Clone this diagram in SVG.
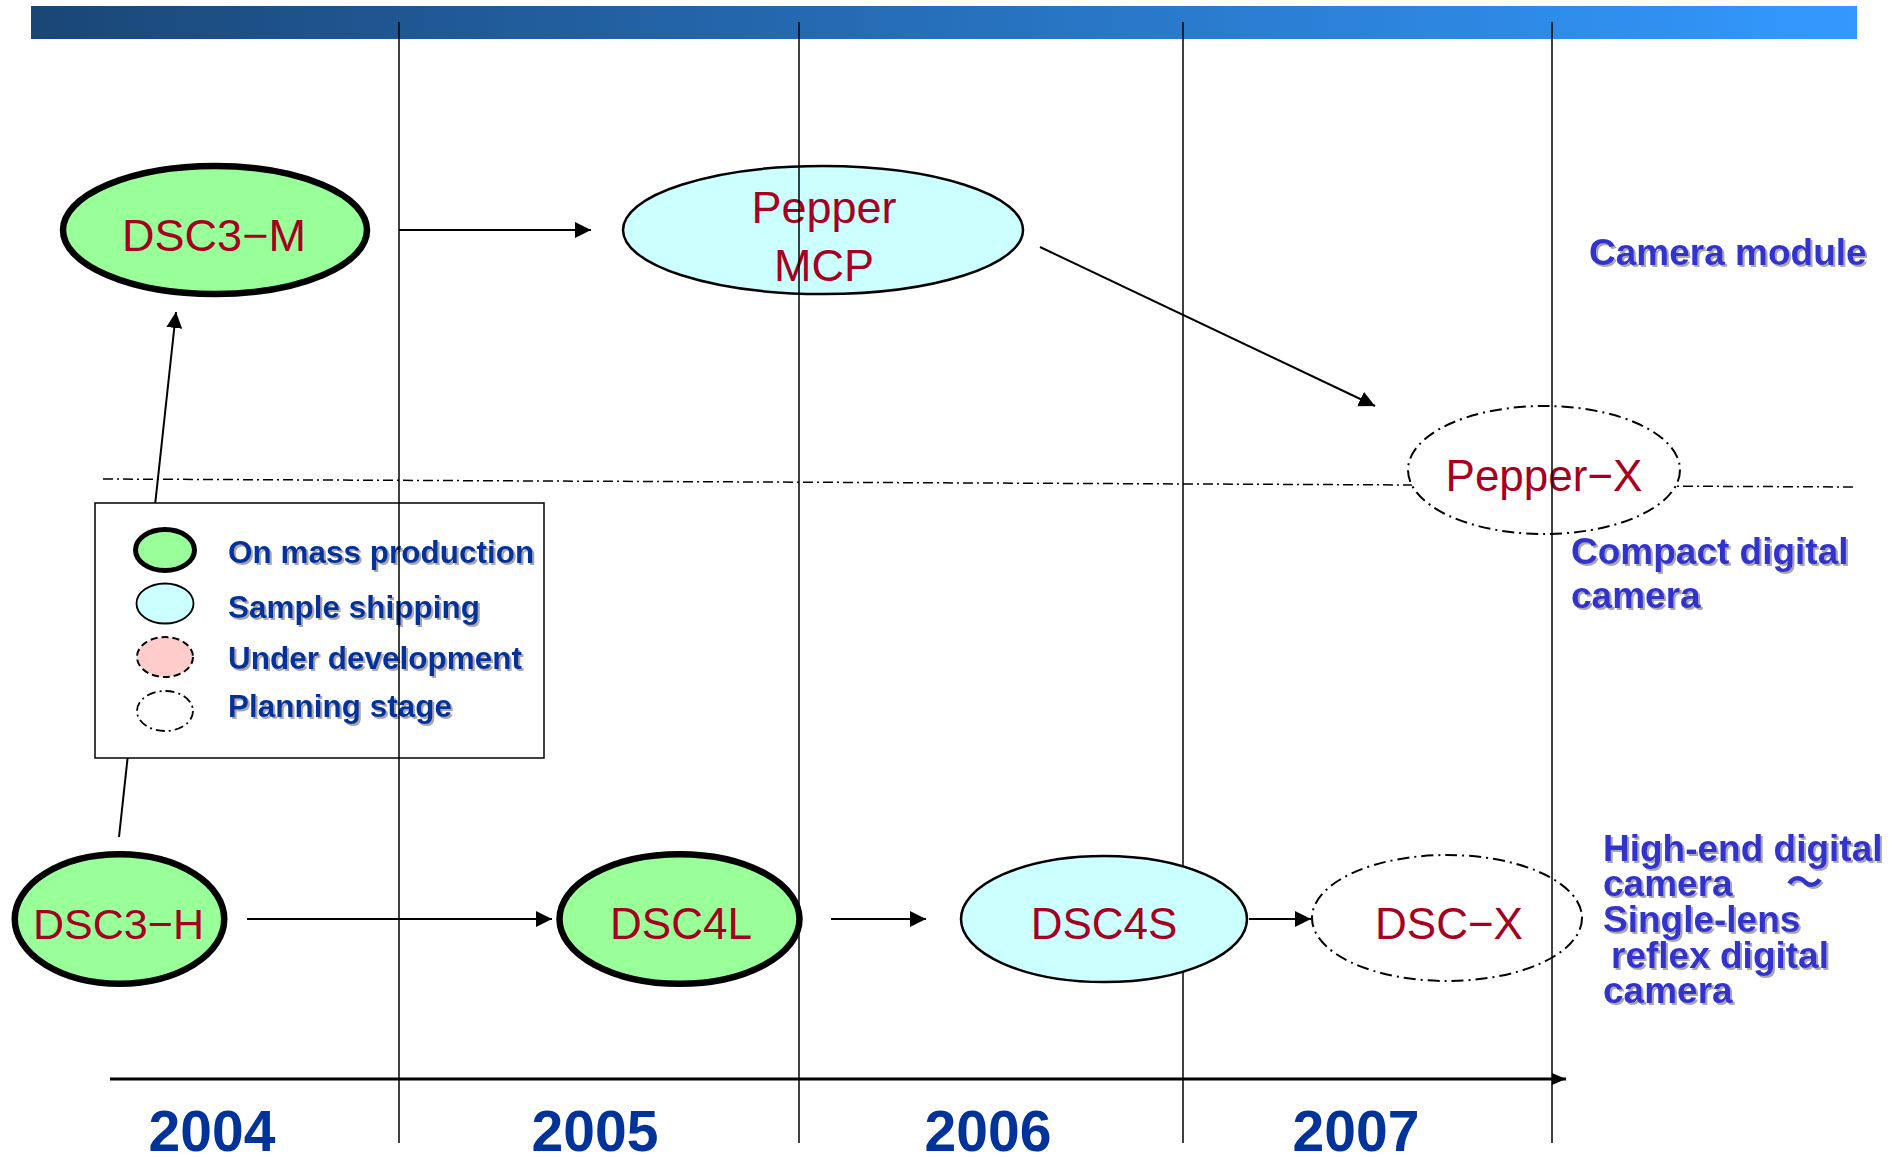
<svg xmlns="http://www.w3.org/2000/svg" width="1903" height="1157" viewBox="0 0 1903 1157">
<defs>
<linearGradient id="barGrad" x1="0" y1="0" x2="1" y2="0">
<stop offset="0" stop-color="#1a4677"/>
<stop offset="1" stop-color="#3399ff"/>
</linearGradient>
<marker id="arrow" markerUnits="userSpaceOnUse" markerWidth="16" markerHeight="16" refX="16" refY="8" orient="auto">
<path d="M0,0 L16,8 L0,16 z" fill="#000"/>
</marker>
<marker id="arrowSmall" markerUnits="userSpaceOnUse" markerWidth="14" markerHeight="12" refX="14" refY="6" orient="auto">
<path d="M0,0 L14,6 L0,12 z" fill="#000"/>
</marker>
<filter id="shadow" x="-5%" y="-20%" width="110%" height="140%">
<feDropShadow dx="2" dy="2" stdDeviation="0.6" flood-color="#999999" flood-opacity="0.85"/>
</filter>
</defs>
<style>
.grid{stroke:#000;stroke-width:1.5;fill:none}
.conn{stroke:#000;stroke-width:2;fill:none;marker-end:url(#arrow)}
.mass{fill:#99ff99;stroke:#000;stroke-width:6.5}
.sample{fill:#ccffff;stroke:#000;stroke-width:2.5}
.dev{fill:#ffcccc;stroke:#000;stroke-width:2;stroke-dasharray:7 4}
.plan{fill:#fff;stroke:#000;stroke-width:2;stroke-dasharray:12 5 2 5}
.node{font-family:"Liberation Sans",Arial,sans-serif;fill:#a50021;text-anchor:middle;font-size:44px}
.legtxt{font-family:"Liberation Sans",Arial,sans-serif;font-weight:bold;font-size:31.5px;fill:#003399;filter:url(#shadow)}
.cat{font-family:"Liberation Sans",Arial,"Noto Sans CJK JP",sans-serif;font-weight:bold;font-size:37px;fill:#3333cc;filter:url(#shadow)}
.year{font-family:"Liberation Sans",Arial,sans-serif;font-weight:bold;font-size:57px;fill:#003399;text-anchor:middle}
</style>
<rect x="31" y="6" width="1826" height="33" fill="url(#barGrad)"/>
<line x1="103" y1="479" x2="1857" y2="487" stroke="#000" stroke-width="1.5" stroke-dasharray="10 4 2 4"/>
<g id="connectors">
<line class="conn" x1="119" y1="837" x2="176" y2="312"/>
<line class="conn" x1="399" y1="230" x2="591" y2="230"/>
<line class="conn" x1="1040" y1="247" x2="1375" y2="406"/>
<line class="conn" x1="247" y1="919" x2="552" y2="919"/>
<line class="conn" x1="831" y1="919" x2="926" y2="919"/>
<line class="conn" x1="1249" y1="919" x2="1311" y2="919"/>
</g>
<g id="legend">
<rect x="95" y="503" width="449" height="255" fill="#fff" stroke="#000" stroke-width="1.5"/>
<ellipse cx="165" cy="550" rx="29.5" ry="20.5" fill="#99ff99" stroke="#000" stroke-width="5"/>
<ellipse cx="165" cy="603.5" rx="28.5" ry="20" class="sample" style="stroke-width:1.8"/>
<ellipse cx="165" cy="657" rx="28" ry="20" class="dev"/>
<ellipse cx="165" cy="711" rx="28" ry="20" fill="none" stroke="#000" stroke-width="1.8" stroke-dasharray="9 4 2 4"/>
<text class="legtxt" x="228" y="563">On mass production</text>
<text class="legtxt" x="228" y="618">Sample shipping</text>
<text class="legtxt" x="228" y="669">Under development</text>
<text class="legtxt" x="228" y="717">Planning stage</text>
</g>
<g id="node-dsc3m">
<ellipse class="mass" cx="215" cy="230" rx="152" ry="64"/>
<text class="node" x="214" y="251" style="font-size:45px">DSC3−M</text>
</g>
<g id="node-peppermcp">
<ellipse class="sample" cx="823" cy="230" rx="200" ry="64"/>
<text class="node" x="824" y="223" style="font-size:45px">Pepper</text>
<text class="node" x="824" y="281" style="font-size:45px">MCP</text>
</g>
<g id="node-pepperx">
<ellipse class="plan" cx="1544" cy="470" rx="136" ry="64"/>
<text class="node" x="1544" y="491">Pepper−X</text>
</g>
<g id="node-dsc3h">
<ellipse class="mass" cx="119.5" cy="919" rx="104.75" ry="64.75"/>
<text class="node" x="118.5" y="939" style="font-size:43px">DSC3−H</text>
</g>
<g id="node-dsc4l">
<ellipse class="mass" cx="679.5" cy="919" rx="120" ry="64.75"/>
<text class="node" x="681" y="939">DSC4L</text>
</g>
<g id="node-dscx">
<ellipse class="plan" cx="1447" cy="918" rx="135" ry="63"/>
<text class="node" x="1449" y="939">DSC−X</text>
</g>
<g id="gridlines">
<line class="grid" x1="399" y1="22" x2="399" y2="1143"/>
<line class="grid" x1="799" y1="22" x2="799" y2="1143"/>
<line class="grid" x1="1183" y1="22" x2="1183" y2="1143"/>
<line class="grid" x1="1552" y1="22" x2="1552" y2="1143"/>
</g>
<g id="node-dsc4s">
<ellipse class="sample" cx="1104" cy="919" rx="143" ry="63"/>
<text class="node" x="1104" y="939">DSC4S</text>
</g>
<g id="timeline">
<line x1="110" y1="1079" x2="1566" y2="1079" stroke="#000" stroke-width="3" marker-end="url(#arrowSmall)"/>
<text class="year" x="212" y="1151">2004</text>
<text class="year" x="595" y="1151">2005</text>
<text class="year" x="988" y="1151">2006</text>
<text class="year" x="1356" y="1151">2007</text>
</g>
<g id="categories">
<text class="cat" x="1589" y="265">Camera module</text>
<text class="cat" x="1571" y="564">Compact digital</text>
<text class="cat" x="1571" y="608">camera</text>
<text class="cat" x="1603" y="861">High-end digital</text>
<text class="cat" x="1603" y="896">camera<tspan x="1786">～</tspan></text>
<text class="cat" x="1603" y="932">Single-lens</text>
<text class="cat" x="1611" y="968">reflex digital</text>
<text class="cat" x="1603" y="1003">camera</text>
</g>
</svg>
